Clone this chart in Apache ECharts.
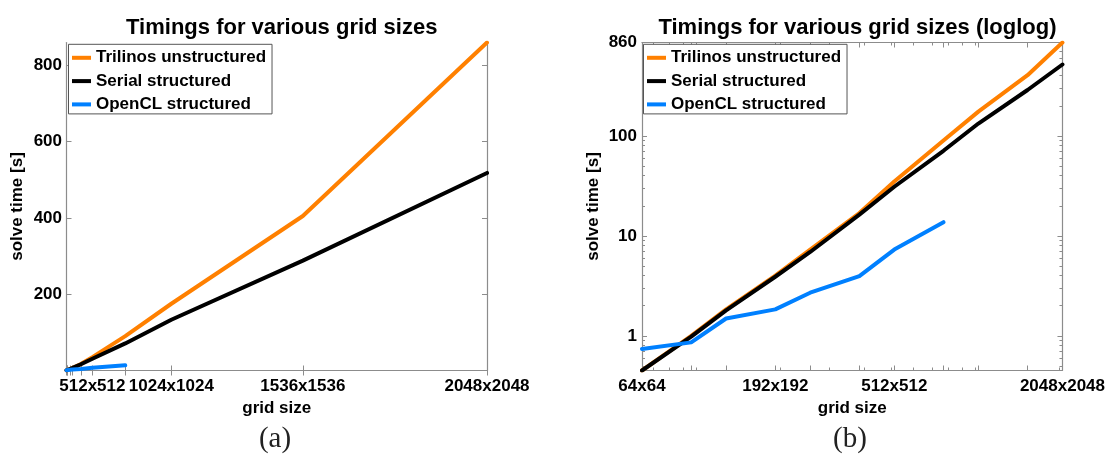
<!DOCTYPE html>
<html><head><meta charset="utf-8">
<script src="https://cdn.jsdelivr.net/npm/echarts@6/dist/echarts.min.js"></script>
<style>html,body{margin:0;padding:0;background:#fff}#c{width:1108px;height:462px}</style>
</head><body><div id="c"></div>
<script>
// ---- data ----
const gridSizes = [64, 96, 128, 192, 256, 384, 512, 768, 1024, 1536, 2048];
const trilinos  = [0.45, 1.0, 1.84, 4.0, 7.3, 16.9, 35, 90, 175, 405, 860];
const serial    = [0.45, 0.98, 1.8, 3.9, 6.9, 16.3, 31, 71, 133, 288, 518];
const openclSizes = [64, 96, 128, 192, 256, 384, 512, 768];
const opencl    = [0.74, 0.86, 1.49, 1.84, 2.7, 3.96, 7.3, 13.7];
const seriesNames = ['Trilinos unstructured', 'Serial structured', 'OpenCL structured'];
const linearLabelSizes = [512, 1024, 1536, 2048];
const logLabelSizes = [64, 192, 512, 2048];
const linearYTicks = [200, 400, 600, 800];
const logYLabels = [1, 10, 100, 860];
const logYMajor = [1, 10, 100];
const logYMinor = [0.5, 0.6, 0.7, 0.8, 0.9, 2, 3, 4, 5, 6, 7, 8, 9, 20, 30, 40, 50, 60, 70, 80, 90, 200, 300, 400, 500, 600, 700, 800];
const logXMinor = [70, 80, 90, 100, 200, 300, 400, 500, 600, 700, 800, 900, 1000, 2000];
const titles = ['Timings for various grid sizes', 'Timings for various grid sizes (loglog)'];
const captions = ['(a)', '(b)'];

const colors = ['#ff8000', '#000000', '#0080ff'];
const FONT = 'Liberation Sans, Arial, Helvetica, sans-serif';
const AX = '#8c8c8c';
const G = [
  {left: 66.5, top: 42.5, width: 420.5, height: 328},
  {left: 642, top: 42.5, width: 421, height: 328}
];
const sq = v => { const n = Math.round(Math.sqrt(v)); return n + 'x' + n; };
const nn = v => { const n = Math.round(v); return n + 'x' + n; };

const labelStyle = {fontFamily: FONT, fontWeight: 'bold', fontSize: 17, color: '#000'};
const nameStyle = {fontFamily: FONT, fontWeight: 'bold', fontSize: 17, color: '#000'};

function baseAxis(extra) {
  return Object.assign({
    axisLine: {show: true, lineStyle: {color: AX, width: 1.2}},
    splitLine: {show: false},
    axisPointer: {show: false}
  }, extra);
}

const xAxis = [
  // left chart: linear in N^2
  baseAxis({gridIndex: 0, type: 'value', position: 'bottom', min: 64*64, max: 2048*2048,
    axisTick: {show: true, inside: true, length: 5, customValues: gridSizes.map(n => n*n), lineStyle: {color: AX}},
    axisLabel: Object.assign({show: true, margin: 7, customValues: linearLabelSizes.map(n => n*n), formatter: sq}, labelStyle),
    name: 'grid size', nameLocation: 'middle', nameGap: 28, nameTextStyle: nameStyle}),
  baseAxis({gridIndex: 0, type: 'value', position: 'top', min: 64*64, max: 2048*2048,
    axisTick: {show: true, inside: true, length: 5, customValues: gridSizes.map(n => n*n), lineStyle: {color: AX}},
    axisLabel: {show: false}}),
  // right chart: log2 in N
  baseAxis({gridIndex: 1, type: 'log', logBase: 2, position: 'bottom', min: 64, max: 2048,
    axisTick: {show: true, inside: true, length: 5, customValues: gridSizes, lineStyle: {color: AX}},
    axisLabel: Object.assign({show: true, margin: 7, customValues: logLabelSizes, formatter: nn}, labelStyle),
    name: 'grid size', nameLocation: 'middle', nameGap: 28, nameTextStyle: nameStyle}),
  baseAxis({gridIndex: 1, type: 'log', logBase: 2, position: 'top', min: 64, max: 2048,
    axisTick: {show: true, inside: true, length: 5, customValues: gridSizes, lineStyle: {color: AX}},
    axisLabel: {show: false}}),
  baseAxis({gridIndex: 1, type: 'log', logBase: 2, position: 'bottom', min: 64, max: 2048,
    axisLine: {show: false},
    axisTick: {show: true, inside: true, length: 3, customValues: logXMinor, lineStyle: {color: AX}},
    axisLabel: {show: false}}),
  baseAxis({gridIndex: 1, type: 'log', logBase: 2, position: 'top', min: 64, max: 2048,
    axisLine: {show: false},
    axisTick: {show: true, inside: true, length: 3, customValues: logXMinor, lineStyle: {color: AX}},
    axisLabel: {show: false}})
];

const yAxis = [
  baseAxis({gridIndex: 0, type: 'value', position: 'left', min: 0, max: 860,
    axisTick: {show: true, inside: true, length: 5, customValues: linearYTicks, lineStyle: {color: AX}},
    axisLabel: Object.assign({show: true, margin: 4.5, customValues: linearYTicks}, labelStyle),
    name: 'solve time [s]', nameLocation: 'middle', nameGap: 41, nameTextStyle: nameStyle}),
  baseAxis({gridIndex: 0, type: 'value', position: 'right', min: 0, max: 860,
    axisTick: {show: true, inside: true, length: 5, customValues: linearYTicks, lineStyle: {color: AX}},
    axisLabel: {show: false}}),
  baseAxis({gridIndex: 1, type: 'log', logBase: 10, position: 'left', min: 0.45, max: 860,
    axisTick: {show: true, inside: true, length: 5, customValues: logYMajor, lineStyle: {color: AX}},
    axisLabel: Object.assign({show: true, margin: 5, customValues: logYLabels, formatter: v => String(Math.round(v))}, labelStyle),
    name: 'solve time [s]', nameLocation: 'middle', nameGap: 40.5, nameTextStyle: nameStyle}),
  baseAxis({gridIndex: 1, type: 'log', logBase: 10, position: 'right', min: 0.45, max: 860,
    axisTick: {show: true, inside: true, length: 5, customValues: logYMajor, lineStyle: {color: AX}},
    axisLabel: {show: false}}),
  baseAxis({gridIndex: 1, type: 'log', logBase: 10, position: 'left', min: 0.45, max: 860,
    axisLine: {show: false},
    axisTick: {show: true, inside: true, length: 3, customValues: logYMinor, lineStyle: {color: AX}},
    axisLabel: {show: false}}),
  baseAxis({gridIndex: 1, type: 'log', logBase: 10, position: 'right', min: 0.45, max: 860,
    axisLine: {show: false},
    axisTick: {show: true, inside: true, length: 3, customValues: logYMinor, lineStyle: {color: AX}},
    axisLabel: {show: false}})
];

function mk(name, xs, ys, xi, yi, color, sqx) {
  return {
    name: name, type: 'line', xAxisIndex: xi, yAxisIndex: yi,
    data: xs.map((n, i) => [sqx ? n*n : n, ys[i]]),
    showSymbol: false, symbol: 'none', animation: false,
    lineStyle: {color: color, width: 4, cap: 'round', join: 'round'},
    itemStyle: {color: color}, z: 3
  };
}

const series = [
  mk(seriesNames[0], gridSizes, trilinos, 0, 0, colors[0], true),
  mk(seriesNames[1], gridSizes, serial, 0, 0, colors[1], true),
  mk(seriesNames[2], openclSizes, opencl, 0, 0, colors[2], true),
  mk(seriesNames[0], gridSizes, trilinos, 2, 2, colors[0], false),
  mk(seriesNames[1], gridSizes, serial, 2, 2, colors[1], false),
  mk(seriesNames[2], openclSizes, opencl, 2, 2, colors[2], false)
];

function legend(left) {
  return {
    left: left, top: 44.3, orient: 'vertical', data: seriesNames, selectedMode: false,
    icon: 'rect', itemWidth: 19, itemHeight: 4, itemGap: 4.3,
    padding: [4, 6, 0, 3.5], borderColor: '#555', borderWidth: 1, backgroundColor: '#fff',
    textStyle: {fontFamily: FONT, fontWeight: 'bold', fontSize: 17, color: '#000', lineHeight: 19}
  };
}

const chart = echarts.init(document.getElementById('c'), null, {renderer: 'canvas'});
chart.setOption({
  backgroundColor: '#fff',
  animation: false,
  title: [
    {text: titles[0], left: G[0].left + G[0].width/2, top: 12, textAlign: 'center',
     textStyle: {fontFamily: FONT, fontWeight: 'bold', fontSize: 22, color: '#000'}},
    {text: titles[1], left: G[1].left + G[1].width/2, top: 12, textAlign: 'center',
     textStyle: {fontFamily: FONT, fontWeight: 'bold', fontSize: 22, color: '#000'}},
    {text: captions[0], left: 270, top: 420, textAlign: 'center',
     textStyle: {fontFamily: 'Liberation Serif, DejaVu Serif, serif', fontWeight: 'normal', fontSize: 29, color: '#222'}},
    {text: captions[1], left: 845, top: 420, textAlign: 'center',
     textStyle: {fontFamily: 'Liberation Serif, DejaVu Serif, serif', fontWeight: 'normal', fontSize: 29, color: '#222'}}
  ],
  legend: [legend(68.5), legend(643.5)],
  grid: G.map(g => Object.assign({show: false}, g)),
  xAxis: xAxis,
  yAxis: yAxis,
  series: series
});
</script></body></html>
